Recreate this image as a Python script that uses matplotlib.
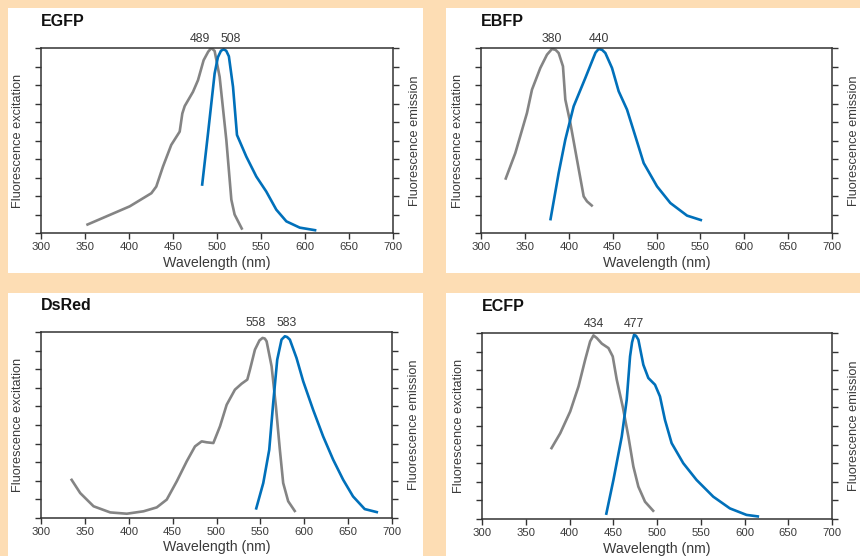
import numpy as np
import matplotlib.pyplot as plt
from matplotlib.patches import Rectangle

# ---- data (wavelength nm, relative intensity) ----
egfp_ex_nm = [351.5, 400.8, 425.4, 431, 438.6, 448, 457.6, 460.6, 463.3, 472.7, 478.4,
              484.8, 490, 493.6, 497.3, 503, 510.6, 516.3, 520, 528.8]
egfp_ex = [0.043, 0.144, 0.215, 0.251, 0.359, 0.476, 0.548, 0.646, 0.686, 0.763, 0.826,
           0.934, 0.98, 1.0, 0.984, 0.844, 0.503, 0.18, 0.1, 0.018]
egfp_em_nm = [483, 489.8, 497.3, 501, 504.5, 507.6, 510.5, 513.5, 518.2, 522.7, 533.3,
              544.7, 556, 567.4, 578.8, 594, 612.9]
egfp_em = [0.255, 0.539, 0.862, 0.95, 0.985, 0.993, 0.985, 0.955, 0.79, 0.53, 0.413,
           0.305, 0.224, 0.126, 0.063, 0.029, 0.014]

ebfp_ex_nm = [327.7, 339.1, 352.4, 358.1, 367.6, 375.2, 380.9, 385, 388.5, 393.4, 396.1,
              401.8, 409.4, 417, 420.8, 427.3]
ebfp_ex = [0.288, 0.432, 0.649, 0.775, 0.892, 0.964, 0.995, 0.99, 0.973, 0.901, 0.721,
           0.595, 0.396, 0.198, 0.171, 0.144]
ebfp_em_nm = [379, 388.5, 396.1, 405.6, 418.9, 426.5, 430.5, 434.1, 438, 441.7, 449.3,
              456.9, 466.4, 475.9, 485.4, 500.6, 515.8, 534.8, 551.9]
ebfp_em = [0.068, 0.324, 0.505, 0.685, 0.838, 0.928, 0.975, 0.995, 0.99, 0.973, 0.892,
           0.766, 0.667, 0.523, 0.378, 0.252, 0.162, 0.094, 0.068]

dsred_ex_nm = [334.1, 344.7, 359.9, 378.9, 397.8, 416.8, 431.9, 443.3, 454.7, 466.1,
               475.5, 483.1, 488.8, 496.4, 504, 511.6, 521, 528.6, 535.1, 538.1,
               543.8, 549, 552.5, 555, 557.1, 562.8, 567.7, 572.2, 576, 581.7, 590]
dsred_ex = [0.211, 0.134, 0.063, 0.030, 0.023, 0.036, 0.057, 0.099, 0.197, 0.305,
            0.385, 0.412, 0.407, 0.403, 0.493, 0.609, 0.69, 0.722, 0.744, 0.797,
            0.905, 0.955, 0.968, 0.965, 0.95, 0.815, 0.6, 0.367, 0.188, 0.09, 0.032]
dsred_em_nm = [544.9, 553.3, 560.1, 564.6, 569.2, 574.1, 577.9, 580.5, 583.6, 591.2,
               598.8, 610.1, 621.5, 632.9, 644.3, 655.6, 668.9, 684.1]
dsred_em = [0.045, 0.188, 0.367, 0.618, 0.851, 0.959, 0.977, 0.973, 0.959, 0.86,
            0.735, 0.582, 0.439, 0.314, 0.206, 0.116, 0.048, 0.030]

ecfp_ex_nm = [378.7, 389.4, 400.8, 410.3, 417.9, 423.6, 427.4, 431.2, 436.9, 444.5,
              449.4, 454, 460.8, 467.3, 473, 478.7, 486.3, 496.6]
ecfp_ex = [0.375, 0.461, 0.578, 0.713, 0.856, 0.955, 0.987, 0.973, 0.943, 0.919,
           0.874, 0.749, 0.605, 0.443, 0.282, 0.174, 0.093, 0.039]
ecfp_em_nm = [441.8, 450.2, 459.7, 465.4, 469.2, 471.5, 473.8, 476, 478.7, 484.4, 490.1,
              497.7, 503.4, 509.1, 516.7, 530, 545.2, 564.3, 583.3, 602.3, 616.7]
ecfp_em = [0.022, 0.21, 0.443, 0.641, 0.874, 0.95, 0.99, 0.985, 0.964, 0.829, 0.758,
           0.722, 0.659, 0.533, 0.408, 0.3, 0.21, 0.12, 0.057, 0.022, 0.013]

names = ['EGFP', 'EBFP', 'DsRed', 'ECFP']
peak_labels = [(489, 508), (380, 440), (558, 583), (434, 477)]
xticks = [300, 350, 400, 450, 500, 550, 600, 650, 700]

peach = '#FDDDB4'
grey = '#848484'
blue = '#0070BA'
spine_c = '#333333'
text_c = '#3a3a3a'
plain = ['Liberation Sans', 'DejaVu Sans']

W, H = 860, 556
fig = plt.figure(figsize=(8.6, 5.56), dpi=100, facecolor=peach)

# white cards behind each panel (pixel boxes: x0, y0, x1, y1 from top-left)
cards = [(8, 8, 423, 273), (446, 8, 860, 273), (8, 293, 423, 556), (446, 293, 860, 556)]
for x0, y0, x1, y1 in cards:
    fig.patches.append(Rectangle((x0 / W, 1 - y1 / H), (x1 - x0) / W, (y1 - y0) / H,
                                 transform=fig.transFigure, facecolor='white',
                                 edgecolor='none', zorder=-5))

# axes boxes in pixels (left, top, right, bottom)
boxes = [(41, 48, 393, 233), (481, 48, 832, 233), (41, 332, 392, 518), (482, 333, 832, 519)]
curves = [(egfp_ex_nm, egfp_ex, egfp_em_nm, egfp_em),
          (ebfp_ex_nm, ebfp_ex, ebfp_em_nm, ebfp_em),
          (dsred_ex_nm, dsred_ex, dsred_em_nm, dsred_em),
          (ecfp_ex_nm, ecfp_ex, ecfp_em_nm, ecfp_em)]
label_shift = [(-8, 5), (0, 0), (-5, 1), (0, 0)]

for i, (l, t, r, b) in enumerate(boxes):
    ax = fig.add_axes([l / W, 1 - b / H, (r - l) / W, (b - t) / H], zorder=2)
    ax.set_facecolor('none')
    ex_x, ex_y, em_x, em_y = curves[i]
    ax.plot(ex_x, ex_y, color=grey, lw=1.9, solid_capstyle='butt', solid_joinstyle='round')
    ax.plot(em_x, em_y, color=blue, lw=1.9, solid_capstyle='butt', solid_joinstyle='round')
    ax.set_xlim(300, 700)
    ax.set_ylim(0, 1)
    ax.set_xticks(xticks)
    ax.set_xticklabels([str(v) for v in xticks], family=plain, fontsize=8.2, color=text_c)
    ax.set_yticks(np.linspace(0, 1, 11))
    ax.tick_params(axis='both', direction='out', length=4, width=1, color=spine_c, pad=2.5)
    ax.tick_params(axis='y', right=True, left=True, labelleft=False, labelright=False)
    for s in ax.spines.values():
        s.set_color(spine_c)
        s.set_linewidth(1.1)
    ax.set_xlabel('Wavelength (nm)', family=plain, fontsize=10.2, color=text_c, labelpad=2.5)

    w, h = r - l, b - t
    ax.text(-23 / w, 0.5, 'Fluorescence excitation', transform=ax.transAxes,
            rotation=90, ha='center', va='center', family=plain, fontsize=9.2,
            color=text_c)
    ax.text(1.0 + 22 / w, 0.5, 'Fluorescence emission', transform=ax.transAxes,
            rotation=90, ha='center', va='center', family=plain, fontsize=9.2,
            color=text_c)

    ax.text(0, 1 + 22 / h, names[i], transform=ax.transAxes, ha='left',
            va='baseline', family=plain, fontweight='bold', fontsize=11.5, color='#111111')

    # peak labels sit above the maximum of each curve
    for k, (xs, ys) in enumerate([(ex_x, ex_y), (em_x, em_y)]):
        px = xs[int(np.argmax(ys))]
        ax.annotate(str(peak_labels[i][k]), xy=(px, 1), xycoords=('data', 'axes fraction'),
                    xytext=(label_shift[i][k], 4.5), textcoords='offset points',
                    ha='center', va='baseline', family=plain, fontsize=8.8, color=text_c)

fig.savefig('out.png', dpi=100, facecolor=peach)
